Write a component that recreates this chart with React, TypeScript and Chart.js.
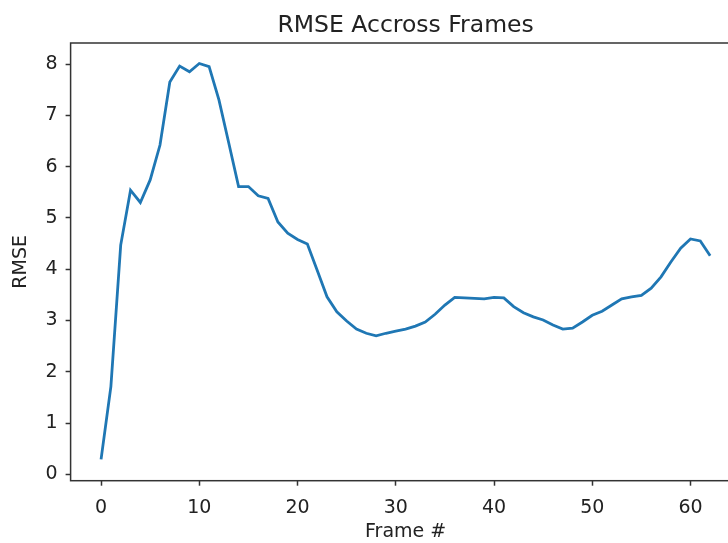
import React, { useEffect, useRef } from "react";
import { Chart, registerables } from "chart.js";

Chart.register(...registerables);

const frames = [
  0, 1, 2, 3, 4, 5, 6, 7, 8, 9, 10, 11, 12, 13, 14, 15, 16, 17, 18, 19, 20,
  21, 22, 23, 24, 25, 26, 27, 28, 29, 30, 31, 32, 33, 34, 35, 36, 37, 38, 39,
  40, 41, 42, 43, 44, 45, 46, 47, 48, 49, 50, 51, 52, 53, 54, 55, 56, 57, 58,
  59, 60, 61, 62,
];

const rmse = [
  0.29, 1.71, 4.47, 5.54, 5.3, 5.74, 6.42, 7.65, 7.96, 7.85, 8.01, 7.95, 7.3,
  6.46, 5.61, 5.61, 5.43, 5.38, 4.92, 4.7, 4.58, 4.49, 3.98, 3.46, 3.17, 2.99,
  2.83, 2.75, 2.7, 2.75, 2.79, 2.83, 2.89, 2.97, 3.12, 3.3, 3.45, 3.44, 3.43,
  3.42, 3.45, 3.44, 3.27, 3.15, 3.07, 3.01, 2.91, 2.83, 2.85, 2.97, 3.1, 3.18,
  3.3, 3.42, 3.46, 3.49, 3.63, 3.85, 4.14, 4.41, 4.59, 4.55, 4.26,
];

const xTicks = [0, 10, 20, 30, 40, 50, 60];
const yTicks = [0, 1, 2, 3, 4, 5, 6, 7, 8];

const titleText = "RMSE Accross Frames";
const xLabel = "Frame #";
const yLabel = "RMSE";

const X_MIN = -3.1;
const X_MAX = 65.1;
const Y_MIN = -0.125;
const Y_MAX = 8.41;

const W = 760;
const H = 543;
const FONT = "'DejaVu Sans', sans-serif";
const TEXT = "#222";
const SPINE = "#333";

const spinePlugin = {
  id: "spines",
  afterDraw(chart: any) {
    const { ctx, chartArea } = chart;
    ctx.save();
    ctx.strokeStyle = SPINE;
    ctx.lineWidth = 1.5;
    ctx.strokeRect(
      chartArea.left,
      chartArea.top,
      chartArea.right - chartArea.left,
      chartArea.bottom - chartArea.top
    );
    ctx.restore();
  },
};

export default function App() {
  const ref = useRef<HTMLCanvasElement | null>(null);

  useEffect(() => {
    if (!ref.current) return;
    const chart = new Chart(ref.current, {
      type: "line",
      data: {
        datasets: [
          {
            data: frames.map((f, i) => ({ x: f, y: rmse[i] })),
            borderColor: "#1f77b4",
            borderWidth: 2.8,
            pointRadius: 0,
            tension: 0,
            fill: false,
          },
        ],
      },
      options: {
        animation: false,
        responsive: false,
        devicePixelRatio: 1,
        layout: { padding: { left: 0, right: W - 740.6, top: 0, bottom: 0 } },
        plugins: {
          legend: { display: false },
          tooltip: { enabled: false },
          title: {
            display: true,
            text: titleText,
            fullSize: false,
            color: TEXT,
            font: { family: FONT, size: 23.5, weight: "normal", lineHeight: 1.2 },
            padding: { top: 12, bottom: 2.8 },
          },
        },
        scales: {
          x: {
            type: "linear",
            min: X_MIN,
            max: X_MAX,
            afterBuildTicks: (axis: any) => {
              axis.ticks = xTicks.map((v) => ({ value: v }));
            },
            afterFit: (scale: any) => {
              scale.height = H - 480.7;
            },
            border: { display: false },
            grid: {
              drawOnChartArea: false,
              drawTicks: true,
              tickLength: 5,
              tickWidth: 1.5,
              color: SPINE,
            },
            ticks: {
              color: TEXT,
              font: { family: FONT, size: 19 },
              padding: 11,
              maxRotation: 0,
              autoSkip: false,
            },
            title: {
              display: true,
              text: xLabel,
              color: TEXT,
              font: { family: FONT, size: 19, lineHeight: 1.2 },
              padding: { top: 0, bottom: 0 },
            },
          },
          y: {
            type: "linear",
            min: Y_MIN,
            max: Y_MAX,
            afterBuildTicks: (axis: any) => {
              axis.ticks = yTicks.map((v) => ({ value: v }));
            },
            afterFit: (scale: any) => {
              scale.width = 70.6;
            },
            border: { display: false },
            grid: {
              drawOnChartArea: false,
              drawTicks: true,
              tickLength: 5,
              tickWidth: 1.5,
              color: SPINE,
            },
            ticks: {
              color: TEXT,
              font: { family: FONT, size: 19 },
              padding: 8,
              autoSkip: false,
            },
            title: {
              display: true,
              text: yLabel,
              color: TEXT,
              font: { family: FONT, size: 19, lineHeight: 1.2 },
              padding: { top: 10, bottom: 0 },
            },
          },
        },
      },
      plugins: [spinePlugin],
    } as any);
    return () => chart.destroy();
  }, []);

  return (
    <div
      style={{
        position: "fixed",
        left: 0,
        top: 0,
        width: 728,
        height: 543,
        overflow: "hidden",
        background: "#fff",
      }}
    >
      <canvas ref={ref} width={W} height={H} style={{ width: W, height: H, display: "block" }} />
    </div>
  );
}
